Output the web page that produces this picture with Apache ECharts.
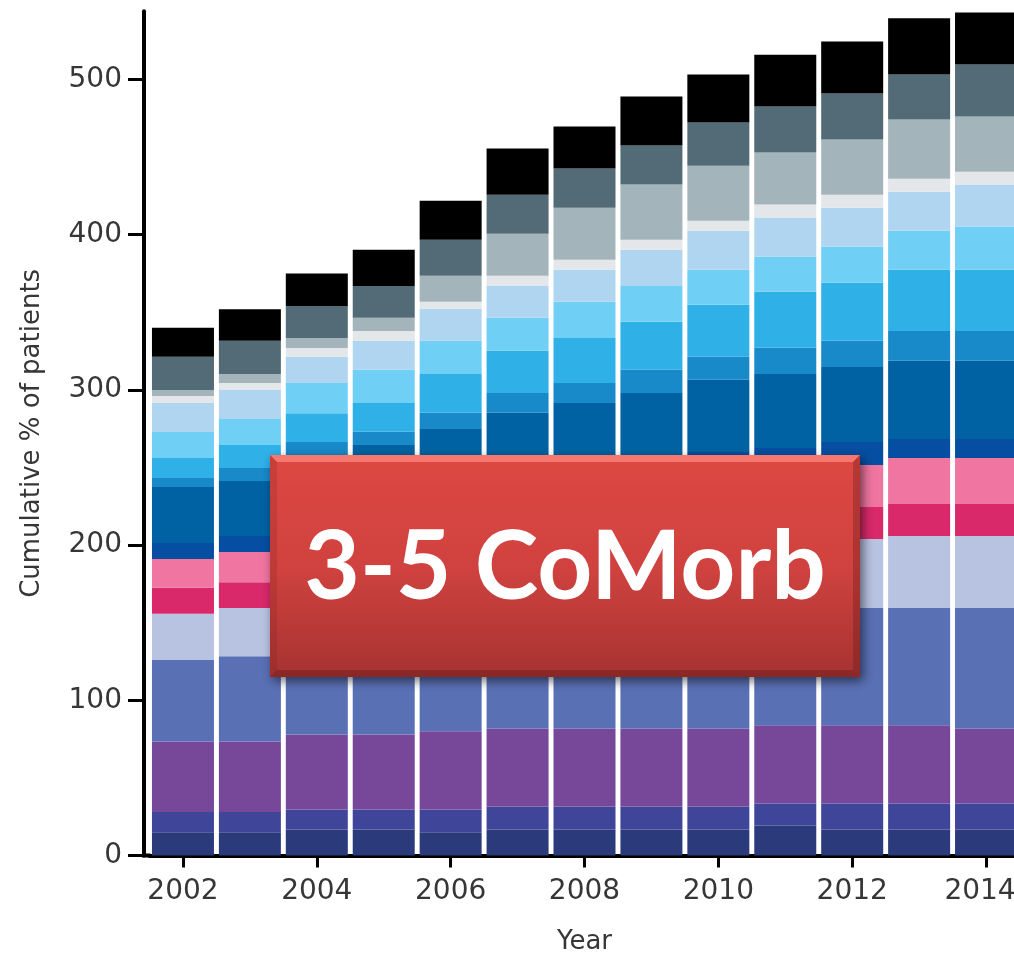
<!DOCTYPE html>
<html>
<head>
<meta charset="utf-8">
<script src="https://cdn.jsdelivr.net/npm/echarts@6/dist/echarts.min.js"></script>
<style>
  html, body { margin: 0; padding: 0; background: #fff; }
  #chart { width: 1014px; height: 955px; }
</style>
</head>
<body>
<div id="chart"></div>
<script>
// years on the x axis
const years = ['2002', '2003', '2004', '2005', '2006', '2007', '2008', '2009', '2010', '2011', '2012', '2013', '2014']
const yTicks = [0, 100, 200, 300, 400, 500]

// segment heights, bottom to top (middle ones are hidden behind the label box, estimated)
const navy      = [15, 15, 16.8, 16.8, 15, 16.8, 16.8, 16.8, 16.8, 19.4, 16.8, 16.8, 16.8]
const indigo    = [13, 13, 12.9, 12.9, 14.7, 14.8, 14.8, 14.8, 14.8, 14.1, 16.7, 16.7, 16.7]
const purple    = [45.5, 45.5, 48.3, 48.3, 50.3, 50.3, 50.3, 50.3, 50.3, 50.4, 50.4, 50.4, 48.4]
const blue      = [52.5, 54.9, 57, 61, 63, 65.1, 68.1, 71.1, 73.1, 73.1, 75.5, 75.5, 77.5]
const lavender  = [29.7, 31, 33, 35, 37, 39, 40, 41, 42, 43, 44.5, 46.4, 46.4]
const crimson   = [16.8, 16.6, 17, 17.5, 18, 18.5, 19, 19.5, 20, 20, 20.6, 20.7, 20.7]
const pink      = [18.5, 19.5, 20, 21, 22, 23, 24, 25, 27, 28, 27.1, 29.6, 29.6]
const darkBlue  = [10.3, 10.3, 11, 11.5, 12, 12.5, 13, 13.5, 16, 14.6, 14.9, 12.3, 12.3]
const ocean     = [36.1, 35.5, 41, 40.5, 42.8, 45.2, 45.6, 46, 46.5, 47.7, 48.3, 50.3, 50.3]
const midBlue   = [5.8, 8.4, 9.5, 8.5, 10.4, 12.8, 12.9, 15, 14.8, 16.8, 16.8, 19.3, 19.3]
const cyan      = [12.9, 14.8, 18.5, 18.6, 25.1, 27.2, 29, 30.9, 33.5, 36.1, 37.4, 39.4, 39.4]
const lightCyan = [16.8, 16.8, 19.5, 21.4, 21.3, 21.3, 23.3, 23.1, 22.6, 22.6, 23.3, 25.2, 27.8]
const paleBlue  = [18.7, 18.7, 16.8, 18.6, 20.7, 20.5, 20.6, 23.3, 25.2, 25.2, 25.1, 25.1, 27.1]
const lightGrey = [4.4, 4.5, 5.7, 6.4, 4.5, 6.5, 6.5, 6.5, 6.4, 8.4, 8.4, 8.4, 8.3]
const grey      = [4, 5.8, 6.5, 8.5, 16.7, 27.1, 33.5, 35.5, 35.5, 33.5, 35.5, 38.1, 35.5]
const slate     = [21.3, 21.3, 20.5, 20.5, 23.3, 25.2, 25.2, 25.1, 27.8, 29.7, 29.7, 29, 33.6]
const black     = [18.7, 20.4, 21, 23.3, 25.1, 29.7, 27.1, 31.6, 30.9, 33.4, 33.5, 36.2, 33.5]

const layers = [
    ['navy', navy, '#2b3a7b'],
    ['indigo', indigo, '#3f4599'],
    ['purple', purple, '#77479a'],
    ['blue', blue, '#5a70b5'],
    ['lavender', lavender, '#b8c3e2'],
    ['crimson', crimson, '#d9296a'],
    ['pink', pink, '#f075a0'],
    ['darkBlue', darkBlue, '#054ea2'],
    ['ocean', ocean, '#0062a3'],
    ['midBlue', midBlue, '#1889c9'],
    ['cyan', cyan, '#2fb1e8'],
    ['lightCyan', lightCyan, '#70cff5'],
    ['paleBlue', paleBlue, '#afd5f0'],
    ['lightGrey', lightGrey, '#e3e7e9'],
    ['grey', grey, '#a3b5bb'],
    ['slate', slate, '#536b76'],
    ['black', black, '#000000']
]

const chart = echarts.init(document.getElementById('chart'))

const textColor = '#363636'
const font = 'DejaVu Sans'

// plot area: y axis sits at x=144, first band starts a few px to its right
const axisX = 144
const gridLeft = 149.5

const option = {
    animation: false,
    grid: {
        left: gridLeft,
        right: -5.5,
        top: 11.2,
        bottom: 99.5,
        outerBoundsMode: 'none'
    },
    xAxis: {
        type: 'category',
        data: years,
        name: 'Year',
        nameLocation: 'middle',
        nameGap: 74,
        nameTextStyle: { color: textColor, fontFamily: font, fontSize: 26 },
        axisLine: { lineStyle: { color: '#000', width: 4 } },
        axisTick: { show: true, alignWithLabel: true, interval: 1, length: 12, lineStyle: { color: '#000', width: 3 } },
        axisLabel: {
            color: textColor, fontFamily: font, fontSize: 28, margin: 22, interval: 1,
            // last label sits a little left of its tick so it stays inside the picture
            formatter: v => v === years[years.length - 1] ? '{last|' + v + '}' : v,
            rich: {
                last: { color: textColor, fontFamily: font, fontSize: 28, padding: [0, 12, 0, 0] }
            }
        },
        splitLine: { show: false }
    },
    yAxis: {
        type: 'value',
        min: 0,
        max: 544,
        offset: gridLeft - axisX,
        name: 'Cumulative % of patients',
        nameLocation: 'middle',
        nameGap: 99,
        nameTextStyle: { color: textColor, fontFamily: font, fontSize: 26 },
        axisLine: { show: true, onZero: false, lineStyle: { color: '#000', width: 4 } },
        axisTick: { show: true, length: 16, lineStyle: { color: '#000', width: 3 }, customValues: yTicks },
        axisLabel: { color: textColor, fontFamily: font, fontSize: 28, margin: 22, customValues: yTicks },
        splitLine: { show: false }
    },
    series: layers.map(([name, vals, color]) => ({
        name: name,
        type: 'bar',
        stack: 'total',
        barWidth: 62,
        data: vals,
        itemStyle: { color: color }
    })),
    graphic: [
        // close the small gap between the y axis and the start of the x axis line
        {
            type: 'line',
            z: 50,
            shape: { x1: axisX - 2, y1: 855.5, x2: gridLeft + 1, y2: 855.5 },
            style: { stroke: '#000', lineWidth: 4 }
        },
        // the red label box drawn over the middle of the bars
        {
            type: 'rect',
            z: 100,
            shape: { x: 270, y: 455, width: 590, height: 222 },
            style: {
                fill: {
                    type: 'linear', x: 0, y: 0, x2: 0, y2: 1,
                    colorStops: [
                        { offset: 0, color: '#dd4842' },
                        { offset: 0.5, color: '#d0423f' },
                        { offset: 1, color: '#a63331' }
                    ]
                },
                shadowBlur: 10,
                shadowOffsetX: 3,
                shadowOffsetY: 4,
                shadowColor: 'rgba(0,0,0,0.55)'
            }
        },
        // bevel edges
        {
            type: 'polygon',
            z: 101,
            shape: { points: [[270, 455], [860, 455], [853, 462], [277, 462]] },
            style: { fill: 'rgba(255,140,130,0.7)' }
        },
        {
            type: 'polygon',
            z: 101,
            shape: { points: [[270, 677], [860, 677], [853, 670], [277, 670]] },
            style: { fill: 'rgba(90,20,20,0.35)' }
        },
        {
            type: 'polygon',
            z: 101,
            shape: { points: [[270, 455], [277, 462], [277, 670], [270, 677]] },
            style: { fill: 'rgba(120,30,30,0.2)' }
        },
        {
            type: 'polygon',
            z: 101,
            shape: { points: [[860, 455], [853, 462], [853, 670], [860, 677]] },
            style: { fill: 'rgba(90,20,20,0.3)' }
        },
        {
            type: 'text',
            z: 102,
            style: {
                text: '3-5 CoMorb',
                x: 565,
                y: 568,
                align: 'center',
                verticalAlign: 'middle',
                fill: '#ffffff',
                font: 'bold 96px Lato'
            }
        }
    ]
}

chart.setOption(option)
</script>
</body>
</html>
